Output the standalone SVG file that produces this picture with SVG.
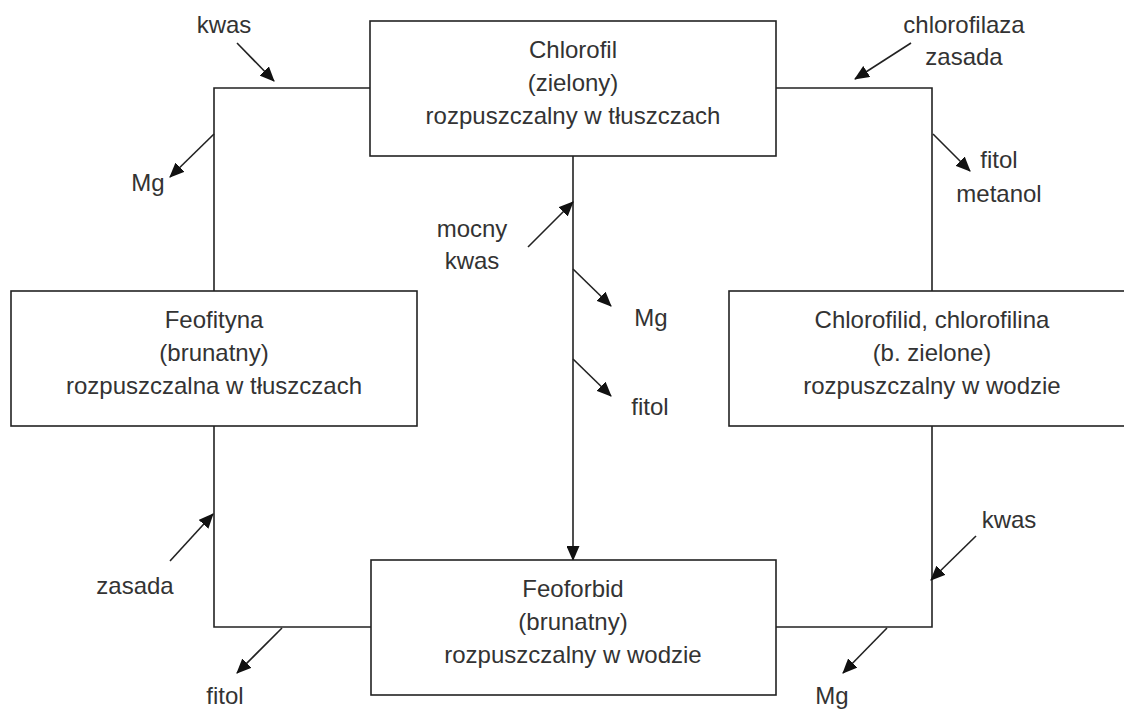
<svg xmlns="http://www.w3.org/2000/svg" width="1124" height="710" viewBox="0 0 1124 710">
<style>
.box{fill:#fff;stroke:#222;stroke-width:1.6}
.ln{fill:none;stroke:#222;stroke-width:1.6}
.ar{fill:none;stroke:#222;stroke-width:1.6;marker-end:url(#ah)}
text{font-family:"Liberation Sans",Arial,sans-serif;font-size:24px;fill:#333;text-anchor:middle}
</style>
<defs>
<marker id="ah" markerUnits="userSpaceOnUse" markerWidth="15" markerHeight="13" viewBox="0 0 15 13" refX="14" refY="6.5" orient="auto">
<path d="M0,0 L15,6.5 L0,13 Z" fill="#111"/>
</marker>
</defs>
<rect width="1124" height="710" fill="#fff"/>
<g id="connectors">
<path class="ln" d="M370,88 H214 V291"/>
<path class="ln" d="M214,426 V627 H371"/>
<path class="ln" d="M776,88 H932 V291"/>
<path class="ln" d="M932,426 V627 H776"/>
<line class="ar" x1="573" y1="156" x2="573" y2="560"/>
<line class="ar" x1="237" y1="43" x2="274" y2="81"/>
<line class="ar" x1="214" y1="134" x2="170" y2="177"/>
<line class="ar" x1="911" y1="43" x2="855" y2="79"/>
<line class="ar" x1="933" y1="134" x2="970" y2="171"/>
<line class="ar" x1="528" y1="247" x2="573" y2="202"/>
<line class="ar" x1="573" y1="269" x2="611" y2="306"/>
<line class="ar" x1="573" y1="359" x2="611" y2="396"/>
<line class="ar" x1="170" y1="561" x2="213" y2="514"/>
<line class="ar" x1="282" y1="628" x2="237" y2="673"/>
<line class="ar" x1="976" y1="536" x2="931" y2="580"/>
<line class="ar" x1="887" y1="628" x2="843" y2="673"/>
</g>
<g id="labels">
<text x="224" y="33">kwas</text>
<text x="148" y="191">Mg</text>
<text x="964" y="33">chlorofilaza</text>
<text x="964" y="65">zasada</text>
<text x="999" y="168">fitol</text>
<text x="999" y="202">metanol</text>
<text x="472" y="237">mocny</text>
<text x="472" y="269">kwas</text>
<text x="651" y="326">Mg</text>
<text x="650" y="415">fitol</text>
<text x="135" y="594">zasada</text>
<text x="225" y="704">fitol</text>
<text x="832" y="704">Mg</text>
<text x="1009" y="528">kwas</text>
</g>
<g id="chlorofil">
<rect class="box" x="370" y="21" width="406" height="135"/>
<text x="573" y="58">Chlorofil</text>
<text x="573" y="91">(zielony)</text>
<text x="573" y="124">rozpuszczalny w tłuszczach</text>
</g>
<g id="feofityna">
<rect class="box" x="11" y="291" width="406" height="135"/>
<text x="214" y="328">Feofityna</text>
<text x="214" y="361">(brunatny)</text>
<text x="214" y="394">rozpuszczalna w tłuszczach</text>
</g>
<g id="chlorofilid">
<rect class="box" x="729" y="291" width="406" height="135"/>
<text x="932" y="328">Chlorofilid, chlorofilina</text>
<text x="932" y="361">(b. zielone)</text>
<text x="932" y="394">rozpuszczalny w wodzie</text>
</g>
<g id="feoforbid">
<rect class="box" x="371" y="560" width="405" height="135"/>
<text x="573" y="597">Feoforbid</text>
<text x="573" y="630">(brunatny)</text>
<text x="573" y="663">rozpuszczalny w wodzie</text>
</g>
</svg>
